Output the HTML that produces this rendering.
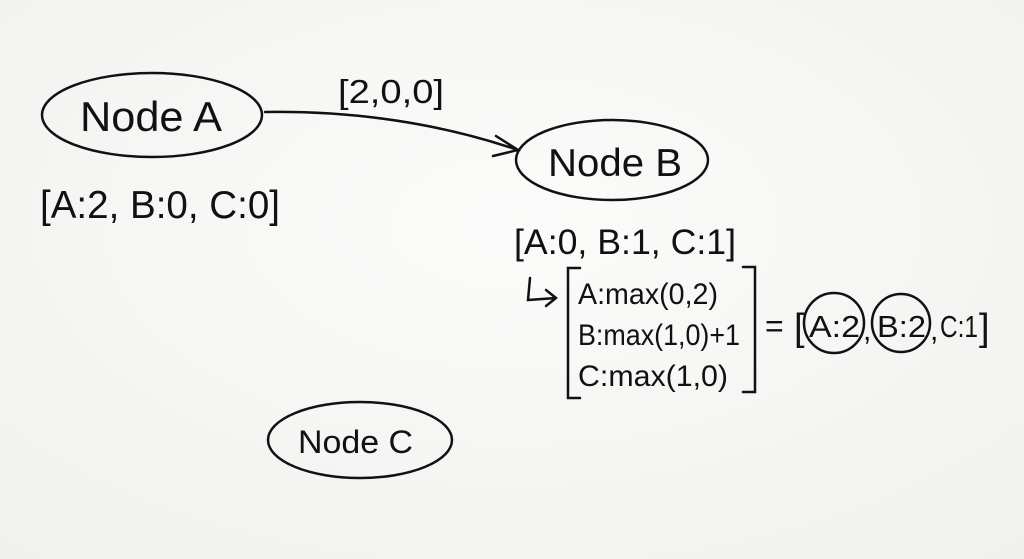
<!DOCTYPE html>
<html><head><meta charset="utf-8"><style>
html,body{margin:0;padding:0;background:#f6f6f4;}
svg{display:block;}
text{font-family:"Liberation Sans",sans-serif;fill:#111;}
</style></head><body>
<svg width="1024" height="559" viewBox="0 0 1024 559" xmlns="http://www.w3.org/2000/svg">
<defs><radialGradient id="g" cx="0.5" cy="0.4" r="0.8"><stop offset="0" stop-color="#fbfbfa"/><stop offset="1" stop-color="#f0f0ee"/></radialGradient></defs>
<rect width="1024" height="559" fill="url(#g)"/>
<g fill="none" stroke="#111" stroke-width="2.5" stroke-linecap="round">
<ellipse cx="152" cy="115" rx="110" ry="42"/>
<ellipse cx="612" cy="160" rx="96" ry="40"/>
<ellipse cx="360" cy="440" rx="92" ry="38"/>
<path d="M265 112 Q400 110 518 150"/>
<path d="M496 136 L518 150 L493 156"/>
<path d="M530 278 L528 300 L556 298 M546 290 L556 298 L546 306"/>
<path d="M580 268 L568 268 L568 398 L580 398"/>
<path d="M743 267 L755 267 L755 392 L743 392"/>
<circle cx="834" cy="323" r="30"/>
<circle cx="901" cy="323" r="29"/>
</g>
<text x="80" y="131" font-size="42" textLength="142" lengthAdjust="spacingAndGlyphs">Node A</text>
<text x="548" y="176" font-size="39" textLength="134" lengthAdjust="spacingAndGlyphs">Node B</text>
<text x="298" y="453" font-size="32" textLength="115" lengthAdjust="spacingAndGlyphs">Node C</text>
<text x="338" y="103" font-size="33" textLength="106" lengthAdjust="spacingAndGlyphs">[2,0,0]</text>
<text x="40" y="218" font-size="39" textLength="240" lengthAdjust="spacingAndGlyphs">[A:2, B:0, C:0]</text>
<text x="514" y="254" font-size="35" textLength="222" lengthAdjust="spacingAndGlyphs">[A:0, B:1, C:1]</text>
<text x="578" y="304" font-size="30" textLength="140" lengthAdjust="spacingAndGlyphs">A:max(0,2)</text>
<text x="578" y="345" font-size="30" textLength="162" lengthAdjust="spacingAndGlyphs">B:max(1,0)+1</text>
<text x="578" y="386" font-size="30" textLength="150" lengthAdjust="spacingAndGlyphs">C:max(1,0)</text>
<text x="765" y="337" font-size="32">=</text>
<text x="794" y="340" font-size="38">[</text>
<text x="809" y="337" font-size="31" textLength="51" lengthAdjust="spacingAndGlyphs">A:2</text>
<text x="863" y="340" font-size="30">,</text>
<text x="877" y="337" font-size="31" textLength="49" lengthAdjust="spacingAndGlyphs">B:2</text>
<text x="930" y="340" font-size="30">,</text>
<text x="940" y="337" font-size="31" textLength="38" lengthAdjust="spacingAndGlyphs">C:1</text>
<text x="979" y="340" font-size="38">]</text>
</svg>
</body></html>
